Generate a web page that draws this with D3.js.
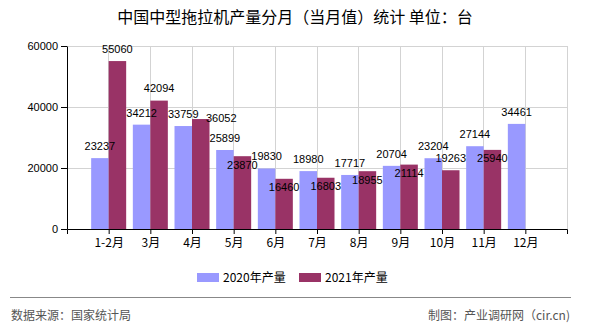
<!DOCTYPE html>
<html><head><meta charset="utf-8">
<script src="https://cdn.jsdelivr.net/npm/d3@7/dist/d3.min.js"></script>
<style>body{margin:0;background:#fff}svg{display:block}</style>
</head><body>
<svg id="c" width="590" height="330"></svg>
<script>
const categories = ["1-2月","3月","4月","5月","6月","7月","8月","9月","10月","11月","12月"];
const series2020 = [23237,34212,33759,25899,19830,18980,17717,20704,23204,27144,34461];
const series2021 = [55060,42094,36052,23870,16460,16803,18955,21114,19263,25940,null];
const seriesNames = ["2020年产量","2021年产量"];
const colors = ["#9999FF","#993366"];
const yTicks = [0,20000,40000,60000];
const title = "中国中型拖拉机产量分月（当月值）统计 单位：台";
const source = "数据来源：国家统计局";
const maker = "制图：产业调研网（cir.cn)";

const svg = d3.select("#c");
const L=67,R=567,T=46,B=229;
const x = d3.scalePoint().domain(categories).range([L,R]).padding(1);
const step = x.step();
const bw = step*0.42;
const y = d3.scaleLinear().domain([0,60000]).range([B,T]);
const cjk = "'Noto Sans CJK SC','Noto Sans',sans-serif";
const num = "'Liberation Sans',Arial,sans-serif";

svg.append("text").attr("x",295).attr("y",17.5).attr("dy","0.35em").attr("text-anchor","middle")
  .style("font-family",cjk).style("font-size","16px").attr("fill","#000").text(title);

// grid
const g = svg.append("g");
g.selectAll("line.h").data(yTicks.slice(1)).join("line")
  .attr("x1",L).attr("x2",R).attr("y1",d=>y(d)).attr("y2",d=>y(d))
  .attr("stroke","#d3d3d3").attr("stroke-width",1).attr("shape-rendering","crispEdges");
g.selectAll("line.v").data(categories.map(c=>x(c)).concat([R])).join("line")
  .attr("x1",d=>d).attr("x2",d=>d).attr("y1",T).attr("y2",B)
  .attr("stroke","#d3d3d3").attr("stroke-width",1).attr("shape-rendering","crispEdges");

// bars
const data = categories.map((c,i)=>({c,v:[series2020[i],series2021[i]]}));
[0,1].forEach(s=>{
  svg.append("g").selectAll("rect").data(data.filter(d=>d.v[s]!=null)).join("rect")
    .attr("x",d=>x(d.c)+(s===0?-bw:0)).attr("width",bw)
    .attr("y",d=>y(d.v[s])).attr("height",d=>B-y(d.v[s]))
    .attr("fill",colors[s]);
});

// axes
const ya = svg.append("g").attr("transform",`translate(${L},0)`)
  .call(d3.axisLeft(y).tickValues(yTicks).tickSize(6).tickSizeOuter(0).tickPadding(3).tickFormat(d3.format("d")));
ya.selectAll("text").style("font-family",num).style("font-size","11px").attr("fill","#000");
ya.select(".domain").attr("stroke","#000");
const xa = svg.append("g").attr("transform",`translate(0,${B})`)
  .call(d3.axisBottom(x).tickSize(5).tickSizeOuter(5).tickPadding(4));
xa.selectAll("text").style("font-family",cjk).style("font-size","12px").attr("fill","#000");
xa.select(".domain").attr("stroke","#000");
xa.selectAll(".tick line").attr("stroke","#000");
ya.selectAll(".tick line").attr("stroke","#000");

// labels with simple collision avoidance
const lg = svg.append("g").style("font-family",num).style("font-size","11px").attr("fill","#000");
const LW=30, LH=11;
data.forEach(d=>{
  const boxes=[];
  [0,1].forEach(s=>{
    const v=d.v[s]; if(v==null) return;
    let cx = x(d.c)+(s===0?-bw/2:bw/2);
    let cy = y(v)-12;
    const hit = (px,py,h)=>boxes.some(b=>Math.abs(b.cx-px)<LW && Math.abs(b.cy-py)<h);
    if(hit(cx,cy,LH)){
      cy = y(v)+8.5;
      if(hit(cx,cy,14)){ cx += 20.5; cy = y(v)-1; }
    }
    boxes.push({cx,cy});
    lg.append("text").attr("x",cx).attr("y",cy).attr("dy","0.35em")
      .attr("text-anchor","middle").text(v);
  });
});

// legend
const leg = svg.append("g");
const lx=[197,299];
seriesNames.forEach((n,i)=>{
  leg.append("rect").attr("x",lx[i]).attr("y",273).attr("width",22).attr("height",9).attr("fill",colors[i]);
  leg.append("text").attr("x",lx[i]+26).attr("y",277.5).attr("dy","0.35em")
    .style("font-family",cjk).style("font-size","12px").attr("fill","#000").text(n);
});

svg.append("line").attr("x1",10).attr("x2",571).attr("y1",297.5).attr("y2",297.5)
  .attr("stroke","#888").attr("stroke-width",1.2);
svg.append("text").attr("x",11).attr("y",316).attr("dy","0.35em")
  .style("font-family",cjk).style("font-size","12px").attr("fill","#555").text(source);
svg.append("text").attr("x",570).attr("y",316).attr("dy","0.35em").attr("text-anchor","end")
  .style("font-family",cjk).style("font-size","12px").attr("fill","#555").text(maker);
</script>
</body></html>
